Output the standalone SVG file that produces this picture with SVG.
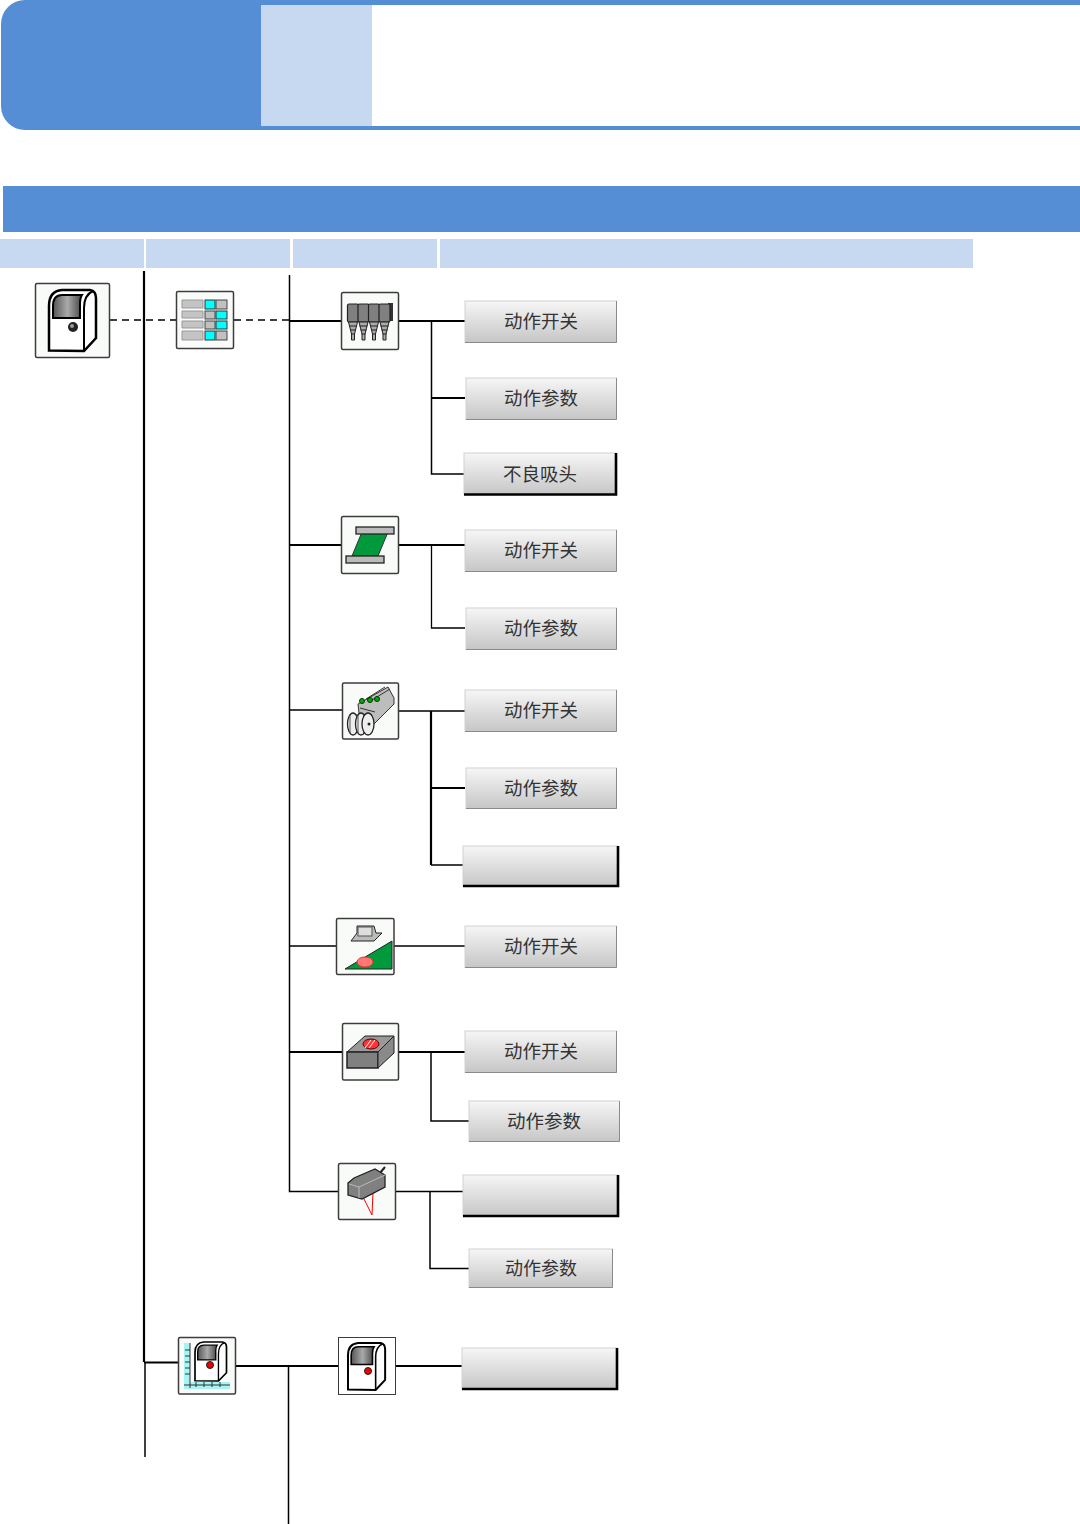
<svg xmlns="http://www.w3.org/2000/svg" width="1080" height="1524" viewBox="0 0 1080 1524">
<style>
.band{fill:#558ed5}.head{fill:#c6d9f1}
.tile{fill:#f8fbf8;stroke:#3c3c3c;stroke-width:1.5}
.c{fill:none;stroke:#000;stroke-width:1.5}.t{stroke-width:2.2}.n{stroke-width:1.3}
.d{stroke-dasharray:7 5;stroke-width:1.6}
.b{fill:url(#btn);stroke:#d2d2d2;stroke-width:1}
.edge{fill:none;stroke:#8a8a8a;stroke-width:1}.dark{fill:none;stroke:#000;stroke-width:2.6}
.lbl{font-family:"Noto Sans CJK SC","Liberation Sans",sans-serif;font-size:18.5px;fill:#333;text-anchor:middle}
.g{fill:#808080;stroke:#222;stroke-width:1.2}
.lg{fill:#c0c0c0;stroke:#444;stroke-width:1}
.cy{fill:#00ffff;stroke:#333;stroke-width:1}
</style>
<defs>
<linearGradient id="btn" x1="0" y1="0" x2="0" y2="1"><stop offset="0" stop-color="#f6f6f6"/><stop offset="1" stop-color="#c6c6c6"/></linearGradient>
<linearGradient id="win" x1="0" y1="0" x2="1" y2="0"><stop offset="0" stop-color="#555"/><stop offset=".5" stop-color="#aaa"/><stop offset="1" stop-color="#444"/></linearGradient>
<g id="cab">
<path d="M0 60.500V16Q0 1 13 0H41Q47 1 47 8V48L35 61Z" fill="#fff" stroke="#000" stroke-width="2.500"/>
<path d="M35 61V18Q35 5 44 1" fill="none" stroke="#000" stroke-width="2"/>
<path d="M4 28V16Q4 5 13 5H33Q31 8 31 14V28Z" fill="url(#win)" stroke="#000" stroke-width="2"/>
</g>
<g id="noz"><rect x="0" y="0" width="11" height="18" rx="1.500" class="g"/><path d="M1 18H10L7 30V36H4V30Z" fill="#aaa" stroke="#222" stroke-width="1"/><path d="M1.500 22H9.500M2.500 26H8.500M3.500 30H7.500" stroke="#222" stroke-width="1.200"/></g>
</defs>

<g id="header">
<path class="band" d="M1 24A24 24 0 0 1 25 0H1080V5H372V126H1080V130H25A24 24 0 0 1 1 106Z"/>
<rect class="head" x="261" y="5" width="111" height="121"/>
<rect class="band" x="3" y="186" width="1077" height="46"/>
<rect class="head" x="0" y="239" width="144" height="29"/>
<rect class="head" x="146" y="239" width="144" height="29"/>
<rect class="head" x="293" y="239" width="144" height="29"/>
<rect class="head" x="440" y="239" width="533" height="29"/>
</g>

<g id="connectors">
<path class="c t" d="M144 271V1362"/><path class="c" d="M145 1362V1457"/>
<path class="c" d="M289.500 275V1191.500H338"/>
<path class="c d" d="M110 320H176M234 320H290"/>
<path class="c t" d="M289 321H341M398 321H465M431 398H465"/>
<path class="c" d="M431.500 321V474H464"/>
<path class="c t" d="M290 545H341M398 545H465"/>
<path class="c n" d="M431.500 545V628H465"/>
<path class="c" d="M290 710H342M398 711H465M431 865H463"/>
<path class="c t" d="M431 711V865M431 788H465"/>
<path class="c n" d="M290 946H337M394 946H465"/>
<path class="c t" d="M290 1052H342M398 1052H465"/>
<path class="c" d="M431 1052V1121H469"/>
<path class="c" d="M396 1191.500H463M430 1191.500V1268.500H469"/>
<path class="c t" d="M144 1362.500H178M236 1366H338M396 1366H462"/>
<path class="c" d="M288.500 1366V1524"/>
</g>

<g id="node-a"><rect class="tile" x="35.500" y="283.500" width="74" height="74" rx="1.500"/><use href="#cab" x="49" y="290"/><circle cx="73" cy="327" r="5" fill="#222"/><circle cx="72" cy="326" r="2" fill="#999"/></g>

<g id="node-b"><rect class="tile" x="176.500" y="291.500" width="57" height="57" rx="1.500"/>
<path fill="#c4c4c4" stroke="#999" d="M182 300H203V308H182ZM182 311H203V318H182ZM182 321H203V328H182ZM182 331H203V340H182Z"/>
<rect class="cy" x="205" y="300" width="10" height="9"/><rect class="lg" x="216" y="300" width="11" height="9"/>
<rect class="lg" x="205" y="311" width="10" height="8"/><rect class="cy" x="216" y="311" width="11" height="8"/>
<rect class="lg" x="205" y="321" width="10" height="8"/><rect class="cy" x="216" y="321" width="11" height="8"/>
<rect class="cy" x="205" y="331" width="10" height="9"/><rect class="lg" x="216" y="331" width="11" height="9"/></g>

<g id="node-c"><rect class="tile" x="341.500" y="292.500" width="57" height="57" rx="1.500"/>
<path d="M350 303H393V321H388V303Z" fill="#333"/>
<use href="#noz" x="347.500" y="304"/><use href="#noz" x="358" y="304"/><use href="#noz" x="368.500" y="304"/><use href="#noz" x="379" y="304"/></g>

<g id="node-d"><rect class="tile" x="341.500" y="516.500" width="57" height="57" rx="1.500"/>
<path d="M362 532H388L378 556H352Z" fill="#009a3c" stroke="#333"/>
<rect x="356" y="527" width="38" height="7" fill="#bbb" stroke="#222" stroke-width="1.300"/>
<rect x="346" y="556" width="38" height="7" fill="#bbb" stroke="#222" stroke-width="1.300"/></g>

<g id="node-e"><rect class="tile" x="342.500" y="683" width="56" height="56" rx="1.500"/>
<path d="M358 704L388 687L394 698V704L371 727L360 722Z" fill="#bdbdbd" stroke="#333"/>
<path d="M366 699L385 687M372 700L390 689M360 708L375 712" stroke="#333" fill="none"/>
<g fill="#eee" stroke="#222" stroke-width="1.300"><ellipse cx="353" cy="724" rx="5.500" ry="11"/><ellipse cx="361" cy="724" rx="5.500" ry="11"/><ellipse cx="368" cy="724" rx="6" ry="11"/></g>
<path d="M350 715V733M358 715V733" stroke="#555" fill="none"/>
<circle cx="369" cy="724" r="1.500" fill="#222"/>
<g fill="#0a0" stroke="#030"><circle cx="362" cy="701" r="2.500"/><circle cx="370" cy="700" r="2.500"/><circle cx="377" cy="699" r="2.500"/></g></g>

<g id="node-f"><rect class="tile" x="336.500" y="918.500" width="57.500" height="56" rx="1.500"/>
<path d="M345 969L392 941V969Z" fill="#009a3c" stroke="#222"/>
<ellipse cx="365" cy="962" rx="8" ry="5" fill="#f77" stroke="#e33"/>
<path d="M357 926H374L376 933H382L374 941H351L357 933Z" fill="#bbb" stroke="#222"/>
<rect x="358" y="927" width="14" height="9" fill="#ddd" stroke="#555"/></g>

<g id="node-g"><rect class="tile" x="342.500" y="1023.500" width="56" height="56.500" rx="1.500"/>
<path d="M347 1052L365 1036H394L378 1052Z" fill="#999" stroke="#222"/>
<path d="M347 1052H378V1068H347Z" fill="#808080" stroke="#222" stroke-width="1.500"/>
<path d="M378 1052L394 1036V1053L378 1068Z" fill="#8a8a8a" stroke="#222"/>
<ellipse cx="371" cy="1044" rx="8" ry="5" fill="#f33" stroke="#600"/>
<path d="M365 1048L371 1040M369 1048L375 1040" stroke="#fff" stroke-width="1"/></g>

<g id="node-h"><rect class="tile" x="338.500" y="1163.500" width="57" height="56" rx="1.500"/>
<path d="M363 1197L372 1215L373 1192" fill="none" stroke="#f00" stroke-width="1"/>
<path d="M380 1173L385 1167" stroke="#222" stroke-width="2"/>
<path d="M348 1183L354 1178L375 1169L385 1175V1187L362 1199L348 1195Z" fill="#808080" stroke="#222" stroke-width="1.300"/>
<path d="M349 1184L359 1187L385 1175M359 1187V1198" fill="none" stroke="#bbb"/></g>

<g id="node-i"><rect class="tile" x="178.500" y="1337.500" width="57" height="56.500" rx="1.500"/>
<path d="M184 1343H190V1382H230V1389H184Z" fill="#a8f4f4"/>
<path d="M190 1343V1388M184 1385H230M185 1350H190M185 1356H190M185 1362H190M185 1368H190M185 1374H190M196 1382V1387M204 1382V1387M212 1382V1387M220 1382V1387" stroke="#333" stroke-width="1"/>
<use href="#cab" transform="translate(195 1342) scale(.67 .64)"/><circle cx="210" cy="1365" r="3.500" fill="#e00" stroke="#222"/></g>

<g id="node-j"><rect class="tile" x="338.500" y="1337.500" width="57" height="57" style="fill:#fff;stroke-width:1"/>
<use href="#cab" transform="translate(348 1343) scale(.79 .77)"/><circle cx="368" cy="1371" r="3.500" fill="#e00" stroke="#222"/></g>

<g id="btn-1"><rect class="b" x="465" y="301" width="151.500" height="41.500"/><path class="edge" d="M465 342.500H616.500V301"/><text class="lbl" x="541" y="328">动作开关</text></g>
<g id="btn-2"><rect class="b" x="466" y="378" width="150.500" height="41.500"/><path class="edge" d="M466 419.500H616.500V378"/><text class="lbl" x="541" y="405">动作参数</text></g>
<g id="btn-3"><rect class="b" x="464" y="453" width="152" height="41.500"/><path class="dark" d="M464 494.500H616V453"/><text class="lbl" x="540" y="481">不良吸头</text></g>
<g id="btn-4"><rect class="b" x="465" y="530" width="151.500" height="41.500"/><path class="edge" d="M465 571.500H616.500V530"/><text class="lbl" x="541" y="557">动作开关</text></g>
<g id="btn-5"><rect class="b" x="466" y="608" width="150.500" height="41.500"/><path class="edge" d="M466 649.500H616.500V608"/><text class="lbl" x="541" y="635">动作参数</text></g>
<g id="btn-6"><rect class="b" x="465" y="690" width="151.500" height="41.500"/><path class="edge" d="M465 731.500H616.500V690"/><text class="lbl" x="541" y="717">动作开关</text></g>
<g id="btn-7"><rect class="b" x="466" y="768" width="150.500" height="40.500"/><path class="edge" d="M466 808.500H616.500V768"/><text class="lbl" x="541" y="795">动作参数</text></g>
<g id="btn-8"><rect class="b" x="463" y="846" width="155" height="40"/><path class="dark" d="M463 886H618V846"/></g>
<g id="btn-9"><rect class="b" x="465" y="926" width="151.500" height="41.500"/><path class="edge" d="M465 967.500H616.500V926"/><text class="lbl" x="541" y="953">动作开关</text></g>
<g id="btn-10"><rect class="b" x="465" y="1031" width="151.500" height="41.500"/><path class="edge" d="M465 1072.500H616.500V1031"/><text class="lbl" x="541" y="1058">动作开关</text></g>
<g id="btn-11"><rect class="b" x="469" y="1101" width="150.500" height="40.500"/><path class="edge" d="M469 1141.500H619.500V1101"/><text class="lbl" x="544" y="1128">动作参数</text></g>
<g id="btn-12"><rect class="b" x="463" y="1175" width="155" height="41"/><path class="dark" d="M463 1216H618V1175"/></g>
<g id="btn-13"><rect class="b" x="469" y="1249" width="143.500" height="38.500"/><path class="edge" d="M469 1287.500H612.500V1249"/><text class="lbl" x="541" y="1275" style="font-size:18px">动作参数</text></g>
<g id="btn-14"><rect class="b" x="462" y="1348" width="155" height="41"/><path class="dark" d="M462 1389H617V1348"/></g>
</svg>
